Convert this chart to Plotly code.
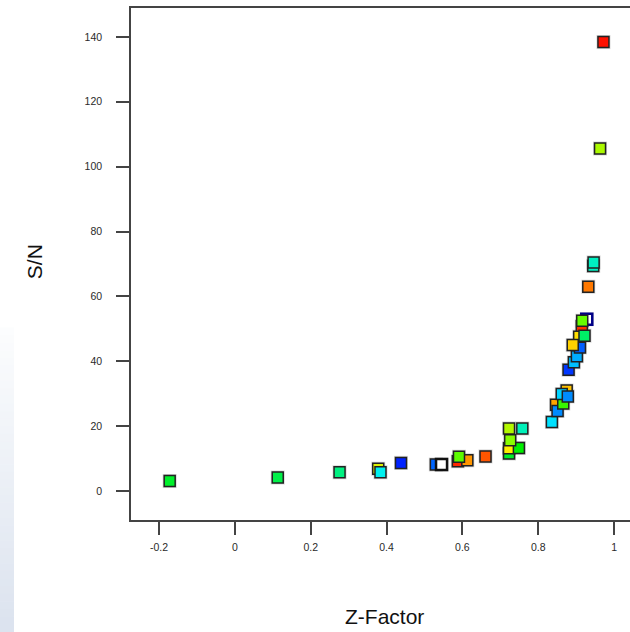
import plotly.graph_objects as go

# --- data ---
z_factor = [-0.172, 0.113, 0.276, 0.378, 0.384, 0.438, 0.530, 0.588, 0.613, 0.591,
            0.661, 0.723, 0.723, 0.749, 0.726, 0.723, 0.758, 0.836, 0.847, 0.851,
            0.866, 0.875, 0.862, 0.878, 0.880, 0.894, 0.902, 0.910, 0.915, 0.908,
            0.891, 0.922, 0.916, 0.932, 0.945, 0.946, 0.963, 0.972]
s_to_n   = [3.1, 4.2, 5.8, 6.9, 5.8, 8.7, 8.2, 9.2, 9.5, 10.6,
            10.7, 11.6, 13.2, 13.3, 15.7, 19.3, 19.3, 21.3, 26.6, 24.7,
            27.0, 31.0, 29.9, 29.2, 37.4, 39.7, 41.6, 44.3, 50.8, 47.6,
            45.0, 47.9, 52.5, 63.0, 69.4, 70.5, 105.6, 138.4]
score    = [0.458, 0.43, 0.375, 0.717, 0.267, 0.033, 0.10, 0.96, 0.85, 0.59,
            0.917, 0.46, 0.75, 0.50, 0.633, 0.675, 0.32, 0.233, 0.833, 0.137,
            0.554, 0.80, 0.217, 0.137, 0.054, 0.196, 0.175, 0.092, 0.95, 0.767,
            0.783, 0.40, 0.60, 0.883, 0.31, 0.31, 0.667, 0.983]

# open (unfilled) points
open_z = [0.545, 0.928]
open_sn = [8.2, 53.0]
open_edge = ["#111111", "#000088"]

x_ticks = [-0.2, 0, 0.2, 0.4, 0.6, 0.8, 1]
x_tick_text = ["-0.2", "0", "0.2", "0.4", "0.6", "0.8", "1"]
y_ticks = [0, 20, 40, 60, 80, 100, 120, 140]
y_tick_text = ["0", "20", "40", "60", "80", "100", "120", "140"]

rainbow = [[0.0, "#0000ff"], [0.125, "#0080ff"], [0.25, "#00f0ff"], [0.375, "#00f080"],
           [0.5, "#00f000"], [0.625, "#80ff00"], [0.75, "#ffee00"], [0.875, "#ff8000"],
           [1.0, "#ff0000"]]

fig = go.Figure()

# soft halo under the squares
fig.add_trace(go.Scatter(x=z_factor + open_z, y=s_to_n + open_sn, mode="markers",
                         marker=dict(symbol="square", size=14, color="rgba(140,140,140,0.35)",
                                     line=dict(width=0)),
                         hoverinfo="skip", showlegend=False))

fig.add_trace(go.Scatter(x=z_factor[:7], y=s_to_n[:7], mode="markers",
                         marker=dict(symbol="square", size=11, color=score[:7], colorscale=rainbow,
                                     cmin=0, cmax=1, line=dict(color="#222222", width=1.5)),
                         showlegend=False))
fig.add_trace(go.Scatter(x=open_z, y=open_sn, mode="markers",
                         marker=dict(symbol="square", size=11, color="white",
                                     line=dict(color=open_edge, width=2.5)),
                         showlegend=False))
fig.add_trace(go.Scatter(x=z_factor[7:], y=s_to_n[7:], mode="markers",
                         marker=dict(symbol="square", size=11, color=score[7:], colorscale=rainbow,
                                     cmin=0, cmax=1, line=dict(color="#222222", width=1.5)),
                         showlegend=False))

# left-edge background strip (slide gradient)
n_bands = 40
y_top, y_bot = 0.375, -0.219
for i in range(n_bands):
    t = i / (n_bands - 1)
    r = int(252 - 32 * t); g = int(253 - 26 * t); b = int(254 - 15 * t)
    fig.add_shape(type="rect", xref="paper", yref="paper",
                  x0=-0.27, x1=-0.2345,
                  y0=y_top - (y_top - y_bot) * (i + 1) / n_bands,
                  y1=y_top - (y_top - y_bot) * i / n_bands + 0.001,
                  fillcolor=f"rgb({r},{g},{b})", line=dict(width=0), layer="below")

axis_font = dict(family="Liberation Sans, Arial, sans-serif", size=10.5, color="#2a2a2a")

fig.update_layout(
    width=630, height=632,
    margin=dict(l=131, r=0, t=8, b=112),
    paper_bgcolor="white", plot_bgcolor="white",
    xaxis=dict(range=[-0.274, 1.042], tickvals=x_ticks, ticktext=x_tick_text,
               showgrid=False, zeroline=False, showline=True, linecolor="#444444",
               linewidth=1.5, mirror=True, ticks="outside", ticklen=13, tickwidth=1.5,
               tickcolor="#444444", tickfont=axis_font, ticklabelstandoff=4),
    yaxis=dict(range=[-8.9, 148.9], tickvals=y_ticks, ticktext=y_tick_text,
               showgrid=False, zeroline=False, showline=True, linecolor="#444444",
               linewidth=1.5, mirror=False, ticks="outside", ticklen=13, tickwidth=1.5,
               tickcolor="#444444", tickfont=axis_font, ticklabelstandoff=12),
    annotations=[
        dict(text="Z-Factor", xref="paper", yref="paper", x=0.509, y=-0.189,
             xanchor="center", yanchor="middle", showarrow=False,
             font=dict(family="Liberation Sans, Arial, sans-serif", size=21, color="#111111")),
        dict(text="S/N", xref="paper", yref="paper", x=-0.192, y=0.504,
             xanchor="center", yanchor="middle", showarrow=False, textangle=-90,
             font=dict(family="Liberation Sans, Arial, sans-serif", size=21, color="#111111")),
    ],
)

fig.write_html("out.html", config={"displayModeBar": False},
               post_script="document.body.style.margin='0';document.body.style.padding='0';"
                           "document.body.style.overflow='hidden';")
